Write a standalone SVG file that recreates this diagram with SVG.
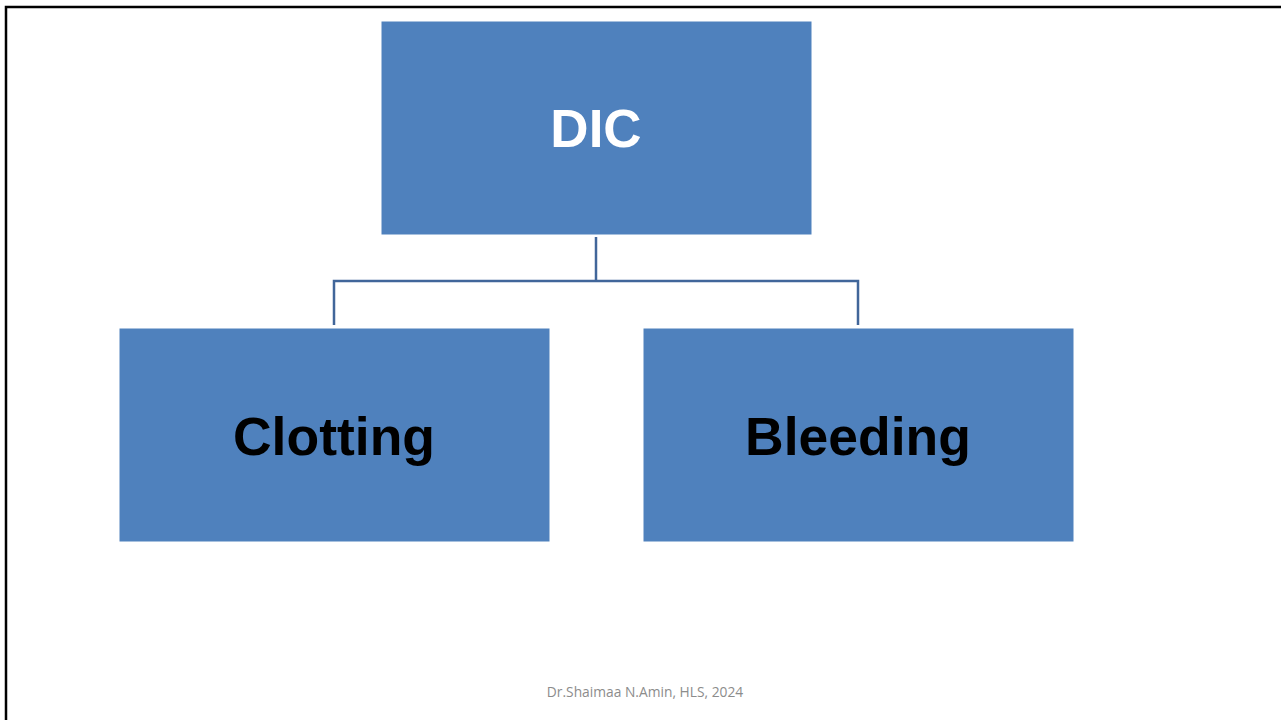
<svg xmlns="http://www.w3.org/2000/svg" width="1281" height="720" viewBox="0 0 1281 720">
  <style>
    .box { fill: #4f81bd; stroke: #ffffff; stroke-width: 1; }
    .lbl { font-family: "Liberation Sans", Arial, sans-serif; font-weight: bold; text-anchor: middle; }
    .conn { fill: none; stroke: #41669a; stroke-width: 2.5; }
    .foot { font-family: "Open Sans", "Liberation Sans", sans-serif; font-size: 13.8px; fill: #8c8c8c; text-anchor: middle; }
  </style>
  <rect x="0" y="0" width="1281" height="720" fill="#ffffff"/>
  <!-- slide frame -->
  <path d="M6,721 V7 H1282" fill="none" stroke="#000000" stroke-width="2.5"/>

  <g id="connectors">
    <path class="conn" d="M596,237 V281"/>
    <path class="conn" d="M334,325 V281 H858 V325"/>
  </g>

  <g id="node-dic">
    <rect class="box" x="381" y="21" width="431" height="214"/>
    <text class="lbl" x="596" y="147" font-size="53" fill="#ffffff">DIC</text>
  </g>
  <g id="node-clotting">
    <rect class="box" x="119" y="328" width="431" height="214"/>
    <text class="lbl" x="334" y="455" font-size="53.5" fill="#000000">Clotting</text>
  </g>
  <g id="node-bleeding">
    <rect class="box" x="643" y="328" width="431" height="214"/>
    <text class="lbl" x="858" y="455" font-size="53.5" fill="#000000">Bleeding</text>
  </g>

  <text class="foot" x="645" y="697">Dr.Shaimaa N.Amin, HLS, 2024</text>
</svg>
